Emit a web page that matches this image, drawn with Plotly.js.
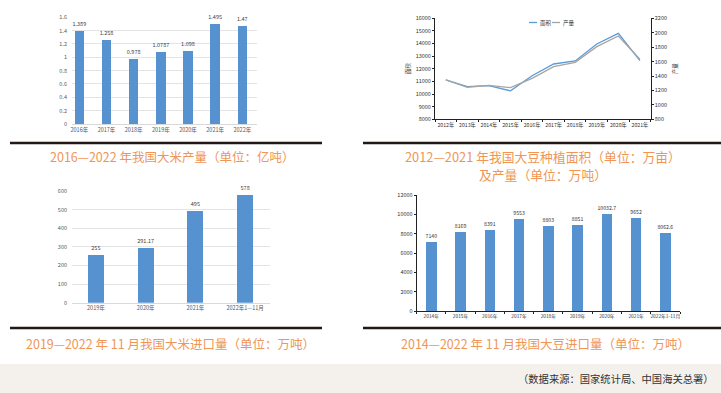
<!DOCTYPE html>
<html><head><meta charset="utf-8">
<script src="https://cdn.plot.ly/plotly-3.0.1.min.js"></script>
<style>html,body{margin:0;padding:0;background:#fff}#c{width:721px;height:393px}</style>
</head><body><div id="c"></div>
<script>
// Chart 1: rice production (亿吨)
const riceYears = ["2016年","2017年","2018年","2019年","2020年","2021年","2022年"];
const riceOutput = [1.389, 1.258, 0.978, 1.0787, 1.098, 1.495, 1.47];
const riceOutputLabels = ["1.389","1.258","0.978","1.0787","1.098","1.495","1.47"];

// Chart 2: soybean area (万亩) and output (万吨)
const soyYears = ["2012年","2013年","2014年","2015年","2016年","2017年","2018年","2019年","2020年","2021年"];
const soyArea = [11120, 10590, 10670, 10250, 11450, 12380, 12620, 13970, 14810, 12650];
const soyOutput = [1345, 1244, 1271, 1239, 1368, 1530, 1590, 1807, 1955, 1632];
const soySeriesNames = ["面积", "产量"];

// Chart 3: rice imports (万吨)
const riceImpYears = ["2019年","2020年","2021年","2022年1—11月"];
const riceImports = [255, 291.17, 495, 578];
const riceImportLabels = ["255","291.17","495","578"];

// Chart 4: soybean imports (万吨)
const soyImpYears = ["2014年","2015年","2016年","2017年","2018年","2019年","2020年","2021年","2022年1-11月"];
const soyImports = [7140, 8169, 8391, 9553, 8803, 8851, 10032.7, 9652, 8062.6];
const soyImportLabels = ["7140","8169","8391","9553","8803","8851","10032.7","9652","8062.6"];

const W = 721, H = 393;
const px = v => v / W;
const py = v => 1 - v / H;
const BLUE = "#5692cf";
const LBLUE = "#5b9bd5", GRAY = "#a5a5a5";
const F = "Noto Sans CJK SC, Noto Sans, sans-serif";
const ORANGE = "#ef9656";
const tf = (c, s) => ({family: F, size: s || 5.5, color: c || "#595959"});

const traces = [
  {type:"bar", x: riceYears, y: riceOutput, text: riceOutputLabels, textposition:"outside", constraintext:"none",
   textfont: tf("#404040", 5.5), marker:{color:BLUE}, width:0.35, xaxis:"x", yaxis:"y", cliponaxis:false, hoverinfo:"none"},
  {type:"scatter", mode:"lines", name:soySeriesNames[0], x: soyYears, y: soyArea, line:{color:LBLUE, width:1.3}, xaxis:"x2", yaxis:"y2"},
  {type:"scatter", mode:"lines", name:soySeriesNames[1], x: soyYears, y: soyOutput, line:{color:GRAY, width:1.3}, xaxis:"x2", yaxis:"y3"},
  {type:"bar", x: riceImpYears, y: riceImports, text: riceImportLabels, textposition:"outside", constraintext:"none",
   textfont: tf("#404040", 5.5), marker:{color:BLUE}, width:0.32, xaxis:"x3", yaxis:"y4", cliponaxis:false, hoverinfo:"none"},
  {type:"bar", x: soyImpYears, y: soyImports, text: soyImportLabels, textposition:"outside", constraintext:"none",
   textfont: tf("#333", 5.2), marker:{color:BLUE}, width:0.36, xaxis:"x4", yaxis:"y5", cliponaxis:false, hoverinfo:"none"}
];

const blackAx = {showline:true, linecolor:"#222", linewidth:1, ticks:"outside", ticklen:2, tickcolor:"#222", showgrid:false, zeroline:false};

const layout = {
  width: W, height: H, margin:{l:0,r:0,t:0,b:0}, paper_bgcolor:"#fff", plot_bgcolor:"rgba(0,0,0,0)",
  font:{family:F},
  bargap:0, showlegend:false,
  xaxis:{domain:[px(72),px(257)], anchor:"y", type:"category", range:[-0.27,6.54], showline:true, linecolor:"#d9d9d9", ticks:"", tickangle:0, tickfont:tf("#595959",5.5)},
  yaxis:{domain:[py(124),py(17.3)], anchor:"x", range:[0,1.6], dtick:0.2, showgrid:true, gridcolor:"#d9d9d9", gridwidth:0.7, zeroline:false, tickfont:tf("#595959",5.5), ticklabelstandoff:4},
  xaxis2:{domain:[px(435),px(650.7)], anchor:"y2", type:"category", range:[-0.5,9.5], tickson:"boundaries", ...blackAx, tickangle:0, tickfont:tf("#333",5.2)},
  yaxis2:{domain:[py(119.3),py(18.3)], anchor:"x2", range:[8000,16000], dtick:1000, tickformat:"d", ...blackAx, tickfont:tf("#333",5.5),
    title:{text:"面积", font:tf("#333",5.5), standoff:4}},
  yaxis3:{overlaying:"y2", side:"right", anchor:"x2", range:[800,2200], dtick:200, tickformat:"d", ...blackAx, tickfont:tf("#333",5.5),
    title:{text:"产量", font:tf("#333",5.5), standoff:7}},
  xaxis3:{domain:[px(72),px(270)], anchor:"y4", type:"category", range:[-0.48,3.5], showline:true, linecolor:"#d9d9d9", ticks:"", tickangle:0, tickfont:tf("#595959",5.5)},
  yaxis4:{domain:[py(302.7),py(191)], anchor:"x3", range:[0,600], dtick:100, showgrid:true, gridcolor:"#d9d9d9", gridwidth:0.7, zeroline:false, tickfont:tf("#595959",5.5), ticklabelstandoff:4},
  xaxis4:{domain:[px(416.7),px(680)], anchor:"y5", type:"category", range:[-0.5,8.5], tickson:"boundaries", ...blackAx, tickangle:0, tickfont:tf("#333",4.8)},
  yaxis5:{domain:[py(311),py(195)], anchor:"x4", range:[0,12000], dtick:2000, tickformat:"d", ...blackAx, tickfont:tf("#333",5.5)},
  shapes:[
    {type:"rect", xref:"paper", yref:"paper", x0:0, x1:1, y0:0, y1:py(364), fillcolor:"#f4f1ec", line:{width:0}, layer:"below"},
    {type:"line", xref:"paper", yref:"paper", x0:px(10), x1:px(322), y0:py(143), y1:py(143), line:{color:"#231815", width:2.5}},
    {type:"line", xref:"paper", yref:"paper", x0:px(363), x1:1, y0:py(143), y1:py(143), line:{color:"#231815", width:2.5}},
    {type:"line", xref:"paper", yref:"paper", x0:px(10), x1:px(322), y0:py(328), y1:py(328), line:{color:"#231815", width:2.5}},
    {type:"line", xref:"paper", yref:"paper", x0:px(363), x1:1, y0:py(328), y1:py(328), line:{color:"#231815", width:2.5}},
    // legend keys for chart 2
    {type:"line", xref:"paper", yref:"paper", x0:px(529), x1:px(537), y0:py(22.5), y1:py(22.5), line:{color:LBLUE, width:1.3}},
    {type:"line", xref:"paper", yref:"paper", x0:px(552), x1:px(560), y0:py(22.5), y1:py(22.5), line:{color:GRAY, width:1.3}}
  ],
  annotations:[
    {text:soySeriesNames[0], xref:"paper", yref:"paper", x:px(538), y:py(22.5), xanchor:"left", yanchor:"middle", showarrow:false, font:tf("#333",5.5)},
    {text:soySeriesNames[1], xref:"paper", yref:"paper", x:px(561), y:py(22.5), xanchor:"left", yanchor:"middle", showarrow:false, font:tf("#333",5.5)},
    {text:"2016—2022 年我国大米产量（单位：亿吨）", xref:"paper", yref:"paper", x:px(172), y:py(156), xanchor:"center", yanchor:"middle", showarrow:false, font:{family:F, size:12.5, color:ORANGE}},
    {text:"2012—2021 年我国大豆种植面积（单位：万亩）", xref:"paper", yref:"paper", x:px(543), y:py(156), xanchor:"center", yanchor:"middle", showarrow:false, font:{family:F, size:12.8, color:ORANGE}},
    {text:"及产量（单位：万吨）", xref:"paper", yref:"paper", x:px(543), y:py(174), xanchor:"center", yanchor:"middle", showarrow:false, font:{family:F, size:12.8, color:ORANGE}},
    {text:"2019—2022 年 11 月我国大米进口量（单位：万吨）", xref:"paper", yref:"paper", x:px(170), y:py(343), xanchor:"center", yanchor:"middle", showarrow:false, font:{family:F, size:12.5, color:ORANGE}},
    {text:"2014—2022 年 11 月我国大豆进口量（单位：万吨）", xref:"paper", yref:"paper", x:px(545), y:py(343), xanchor:"center", yanchor:"middle", showarrow:false, font:{family:F, size:12.5, color:ORANGE}},
    {text:"（数据来源：国家统计局、中国海关总署）", xref:"paper", yref:"paper", x:px(716), y:py(378), xanchor:"right", yanchor:"middle", showarrow:false, font:{family:F, size:10.3, color:"#333"}}
  ]
};

Plotly.newPlot("c", traces, layout, {displayModeBar:false, staticPlot:true});
</script></body></html>
